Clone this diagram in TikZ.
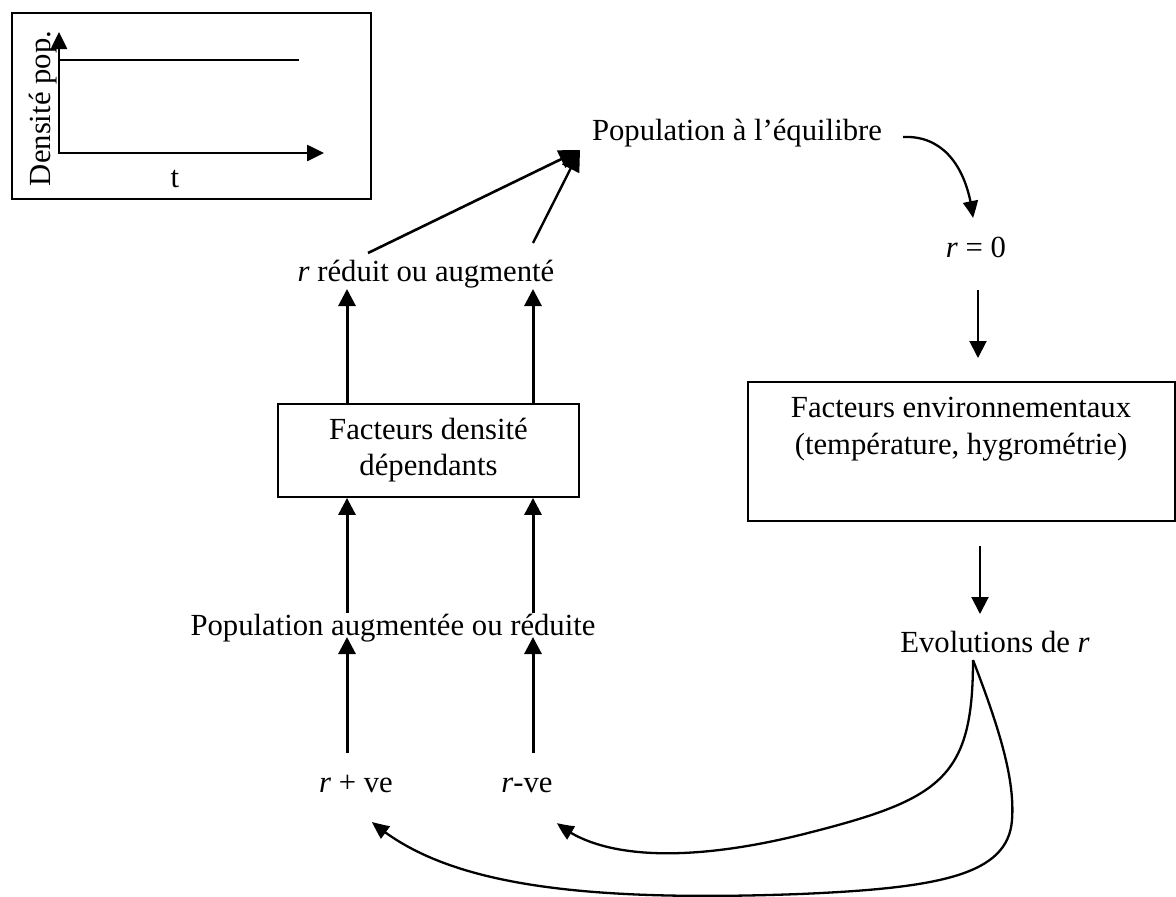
\documentclass[tikz,border=0pt]{standalone}
\usepackage{fontspec}
\setmainfont{Liberation Serif}
\usetikzlibrary{arrows.meta,calc,bending}
\begin{document}
\begin{tikzpicture}[x=1pt,y=-1pt,
  txt/.style={inner sep=0pt,anchor=base,font=\fontsize{30.7}{36.5}\selectfont},
  boxed/.style={draw,line width=1.8pt,inner sep=0pt,anchor=center},
  arr/.style={line width=3pt,-{Triangle[length=17pt,width=17pt]}},
  thinarr/.style={line width=2pt,-{Triangle[length=17pt,width=17pt]}},
  curvearr/.style={line width=2.3pt,-{Triangle[length=17pt,width=15pt,bend]}},
  axis/.style={line width=2.6pt,line join=miter,{Triangle[length=17pt,width=16pt]}-{Triangle[length=17pt,width=16pt]}}
]
\useasboundingbox (0,0) rectangle (1176,897);

% small chart: density against time
\node[boxed,line width=1.5pt,minimum width=359pt,minimum height=186pt] (inset) at (191.5,106) {};
\coordinate (org) at (59,153);
\coordinate (ytip) at (59,32);
\coordinate (xtip) at (324,153);
\coordinate (lvlA) at (59,60);
\coordinate (lvlB) at (299,60);
\draw[axis] (ytip) -- (org) -- (xtip);
\draw[line width=1.5pt] (lvlA) -- (lvlB);
\node[txt,rotate=90] (ylab) at (50,108.5) {Densité pop.};
\node[txt] (tlab) at (175,187) {t};

% column positions of the vertical arrows
\coordinate (colL) at (347,0);
\coordinate (colR) at (533,0);

% nodes
\node[txt] (popeq) at (737,140) {Population à l’équilibre};
\node[txt] (req) at (976,257) {\textit{r} = 0};
\node[txt] (rred) at (426,281) {\textit{r} réduit ou augmenté};
\node[boxed,minimum width=301pt,minimum height=93pt,align=center,
      font=\fontsize{30.7}{36}\selectfont] (fdd) at (428.5,450.5) {Facteurs densité\\dépendants};
\node[txt] (popaug) at (393,635) {Population augmentée ou réduite};
\node[txt] (rpos) at (356,792) {\textit{r} + ve};
\node[txt] (rneg) at (527,792) {\textit{r}-ve};
\node[boxed,minimum width=427pt,minimum height=139pt] (envbox) at (961.5,451.5) {};
\node[txt,anchor=north,align=center,font=\fontsize{30.7}{37}\selectfont] (envtxt) at (961,397) {Facteurs environnementaux\\(température, hygrométrie)};
\node[txt] (evol) at (995,652) {Evolutions de \textit{r}};

% left column, bottom to top
\draw[arr] ($(rpos.base -| colL)+(0,-39)$) -- ($(popaug.base -| colL)+(0,2)$);
\draw[arr] ($(rneg.base -| colR)+(0,-39)$) -- ($(popaug.base -| colR)+(0,2)$);
\draw[arr] ($(popaug.base -| colL)+(0,-22)$) -- (fdd.south -| colL);
\draw[arr] ($(popaug.base -| colR)+(0,-22)$) -- (fdd.south -| colR);
\draw[arr] (fdd.north -| colL) -- ($(rred.base -| colL)+(0,8)$);
\draw[arr] (fdd.north -| colR) -- ($(rred.base -| colR)+(0,8)$);
\draw[line width=2.6pt,-{Triangle[length=21pt,width=19pt]}] ($(rred.base)+(-58,-28)$) -- ($(popeq.base)+(-157,10)$);
\draw[line width=2.4pt,-{Triangle[length=21pt,width=19pt]}] ($(rred.base -| colR)+(0,-38)$) -- ($(popeq.base)+(-157,10)$);

% right column
\draw[curvearr] ($(popeq.base)+(166,-3)$) .. controls (945,135) and (968,170) .. ($(req.base)+(-3,-39)$);
\draw[thinarr] ($(req.base)+(2,33)$) -- ($(req.base)+(2,101)$);
\draw[thinarr] ($(envbox.south)+(18.5,24)$) -- ($(evol.base)+(-15,-38)$);

% feedback from the changes of r
\draw[curvearr] ($(evol.base)+(-22,8)$) .. controls (973,780) and (940,800) .. (800,835)
  .. controls (690,862) and (600,860) .. ($(rneg.base)+(30,31)$);
\draw[curvearr] ($(evol.base)+(-22,8)$) .. controls (1000,730) and (1015,780) .. (1012,820)
  .. controls (1008,875) and (940,888) .. (800,894)
  .. controls (560,903) and (440,880) .. ($(rpos.base)+(16,30)$);
\end{tikzpicture}
\end{document}
